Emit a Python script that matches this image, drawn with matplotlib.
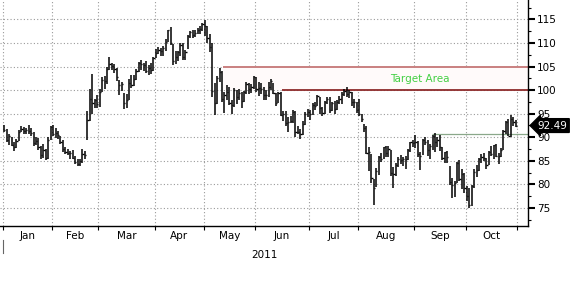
import matplotlib
matplotlib.use("Agg")
import matplotlib.pyplot as plt
import matplotlib.transforms as mtransforms
import numpy as np

# ---- data (WTI-style daily bars, 2011, trading days) ----
months = ["Jan", "Feb", "Mar", "Apr", "May", "Jun", "Jul", "Aug", "Sep", "Oct"]

close_jan = [91.55, 89.38, 90.30, 88.38, 88.03, 89.25, 91.11, 91.86, 91.40, 91.54, 91.38, 90.86, 88.86, 89.11, 87.87, 86.19, 87.33, 85.64, 89.34, 92.19]
high_jan = [92.58, 91.78, 90.79, 90.15, 89.09, 89.62, 91.50, 92.33, 92.14, 92.00, 92.58, 91.95, 91.09, 90.14, 89.76, 88.17, 88.51, 87.61, 90.09, 92.40]
low_jan = [91.05, 89.05, 88.38, 88.16, 87.19, 87.67, 89.24, 91.02, 90.70, 90.63, 90.70, 90.35, 88.09, 88.40, 87.27, 85.50, 85.68, 85.11, 85.33, 89.33]

close_feb = [90.77, 90.86, 90.54, 89.03, 87.48, 86.94, 86.71, 86.73, 85.58, 84.81, 84.32, 84.99, 86.36, 86.20, 93.57, 98.10, 97.28, 97.88, 96.97]
high_feb = [92.56, 92.00, 91.30, 90.20, 89.43, 87.90, 87.60, 87.20, 87.40, 86.10, 85.40, 85.50, 87.50, 87.00, 95.60, 100.30, 103.41, 98.20, 99.00]
low_feb = [90.20, 89.80, 89.60, 88.60, 86.98, 86.50, 86.30, 85.50, 85.30, 84.30, 83.90, 84.00, 84.60, 85.50, 89.50, 93.50, 95.00, 96.20, 96.20]

close_mar = [99.63, 102.23, 101.91, 104.42, 105.44, 105.02, 104.38, 102.70, 101.16, 101.19, 97.18, 97.98, 101.42, 101.07, 102.33, 104.00, 105.75, 105.60, 105.40, 103.98, 104.79, 104.27, 106.72]
high_mar = [100.20, 102.70, 102.90, 104.92, 106.95, 105.80, 105.60, 104.70, 102.10, 101.80, 99.40, 99.10, 102.40, 103.20, 103.10, 104.50, 106.00, 106.30, 105.80, 106.20, 105.30, 105.70, 107.00]
low_mar = [96.40, 99.50, 100.30, 101.30, 104.30, 104.20, 103.60, 102.00, 99.00, 99.80, 96.00, 96.20, 98.00, 100.50, 100.80, 102.10, 103.90, 104.20, 104.10, 103.70, 103.30, 103.40, 104.10]

close_apr = [107.94, 108.47, 108.34, 108.83, 110.30, 112.79, 109.92, 106.25, 107.11, 108.11, 109.66, 107.12, 108.15, 111.45, 112.29, 111.78, 112.21, 112.76, 112.86, 113.93]
high_apr = [108.80, 109.10, 108.90, 109.30, 110.75, 112.80, 113.46, 109.80, 108.30, 108.30, 109.90, 110.00, 108.50, 111.70, 112.50, 112.80, 112.80, 113.20, 113.60, 114.20]
low_apr = [106.80, 107.60, 107.20, 107.20, 108.20, 110.20, 109.50, 105.30, 105.60, 106.10, 107.30, 106.30, 106.40, 108.70, 111.10, 111.10, 111.20, 111.80, 111.80, 112.50]

close_may = [113.52, 111.05, 109.24, 99.80, 97.18, 102.55, 103.88, 98.21, 98.97, 99.65, 97.37, 96.91, 100.10, 98.44, 99.49, 97.70, 99.59, 101.32, 100.23, 100.59, 102.70]
high_may = [114.83, 113.50, 111.90, 109.90, 101.50, 102.90, 104.60, 104.10, 99.70, 101.00, 100.60, 97.80, 100.50, 100.10, 100.20, 99.70, 99.90, 101.80, 101.50, 101.30, 102.90]
low_may = [111.50, 110.00, 108.00, 98.50, 94.63, 97.00, 101.70, 97.50, 95.20, 97.80, 96.80, 95.00, 96.50, 97.00, 97.80, 96.30, 97.40, 99.10, 99.20, 99.40, 100.20]

close_jun = [100.29, 100.40, 100.22, 99.01, 98.94, 100.74, 101.93, 99.29, 97.30, 99.37, 94.81, 94.95, 93.01, 93.26, 93.40, 95.41, 91.02, 91.16, 90.61, 92.89, 94.96, 95.42]
high_jun = [102.80, 101.70, 101.50, 100.60, 100.00, 101.70, 102.40, 101.50, 99.40, 99.70, 99.50, 95.50, 95.60, 94.30, 94.60, 95.80, 95.50, 92.40, 91.80, 93.40, 95.30, 95.90]
low_jun = [99.60, 98.70, 99.10, 98.00, 98.00, 98.60, 100.00, 99.10, 96.70, 97.30, 94.50, 93.50, 92.40, 91.20, 93.10, 93.10, 90.00, 90.60, 89.61, 90.50, 92.70, 94.20]

close_jul = [94.94, 96.89, 96.65, 98.67, 96.20, 95.15, 97.43, 98.05, 95.69, 97.24, 95.93, 97.50, 98.14, 99.13, 99.87, 99.20, 99.59, 97.40, 97.44, 95.70]
high_jul = [95.80, 97.20, 97.40, 98.90, 98.50, 96.50, 97.60, 98.50, 98.60, 97.50, 97.60, 97.90, 98.70, 99.60, 100.20, 100.60, 100.00, 99.70, 98.10, 97.50]
low_jul = [93.70, 94.70, 95.70, 96.60, 95.00, 94.60, 95.00, 97.00, 95.20, 95.60, 95.00, 95.80, 97.00, 97.00, 98.80, 98.50, 98.40, 96.70, 96.30, 95.10]

close_aug = [94.89, 93.79, 91.93, 86.63, 86.88, 81.31, 79.30, 82.89, 85.72, 85.38, 87.88, 86.65, 87.58, 82.38, 82.26, 84.12, 85.44, 85.16, 85.30, 85.37, 87.27, 88.90, 88.81]
high_aug = [98.10, 95.00, 92.80, 92.30, 87.90, 86.40, 81.20, 83.50, 86.00, 86.60, 88.00, 88.20, 88.20, 87.40, 83.80, 84.50, 85.90, 86.30, 85.80, 86.10, 87.50, 89.10, 89.40]
low_aug = [94.50, 93.20, 91.10, 86.50, 82.90, 80.30, 75.71, 79.50, 82.10, 84.70, 85.40, 85.90, 85.90, 81.80, 79.20, 81.90, 83.70, 84.30, 84.00, 83.30, 85.20, 86.90, 88.00]

close_sep = [88.93, 86.45, 86.02, 89.34, 89.05, 87.24, 88.19, 90.21, 88.91, 89.40, 87.96, 85.70, 86.92, 85.92, 80.51, 79.85, 80.24, 84.45, 81.21, 82.14, 79.20]
high_sep = [90.50, 89.20, 86.80, 89.60, 90.00, 89.50, 88.60, 90.50, 91.00, 90.00, 90.50, 88.00, 86.95, 87.00, 84.00, 81.40, 80.80, 84.70, 85.20, 83.20, 82.50]
low_sep = [87.70, 85.90, 83.00, 86.20, 88.40, 86.00, 85.50, 87.30, 86.80, 87.90, 87.10, 85.20, 84.50, 84.50, 79.80, 77.10, 77.30, 80.40, 80.80, 79.00, 78.10]

close_oct = [77.61, 75.67, 79.68, 82.59, 82.98, 85.41, 85.81, 85.57, 84.23, 86.80, 86.38, 88.34, 85.97, 86.11, 87.40, 91.27, 93.17, 90.20, 93.96, 93.32, 92.49]
high_oct = [79.70, 79.20, 79.90, 83.20, 84.20, 85.70, 86.40, 86.70, 85.70, 87.00, 88.10, 88.40, 88.60, 86.60, 87.70, 91.60, 93.50, 93.80, 94.65, 94.20, 93.70]
low_oct = [76.60, 74.95, 75.40, 79.30, 81.60, 82.90, 84.60, 84.90, 83.20, 84.20, 86.00, 85.50, 85.80, 84.40, 85.80, 87.30, 90.80, 90.20, 90.10, 92.30, 92.20]

closes_by_month = [close_jan, close_feb, close_mar, close_apr, close_may, close_jun,
                   close_jul, close_aug, close_sep, close_oct]
highs_by_month = [high_jan, high_feb, high_mar, high_apr, high_may, high_jun,
                  high_jul, high_aug, high_sep, high_oct]
lows_by_month = [low_jan, low_feb, low_mar, low_apr, low_may, low_jun,
                 low_jul, low_aug, low_sep, low_oct]

y_ticks = [75, 80, 85, 90, 95, 100, 105, 110, 115]
target_low = 100
target_high = 105
support_level = 90.6
last_price = 92.49
year_label = "2011"
target_label = "Target Area"

# ---- assemble ----
close = np.concatenate(closes_by_month)
high = np.concatenate(highs_by_month)
low = np.concatenate(lows_by_month)
x = np.arange(len(close))
month_len = [len(m) for m in closes_by_month]
bounds = np.concatenate([[0], np.cumsum(month_len)]) - 0.5  # month boundaries
mid = (bounds[:-1] + bounds[1:]) / 2

fig = plt.figure(figsize=(5.8, 3.0), dpi=100)
ax = fig.add_axes([0.0, 0.2467, 0.9103, 0.7533])
ax.set_xlim(-1.7, 214.0)
ax.set_ylim(71.2, 119.1)

# grid
grid_kw = dict(color="#9a9a9a", lw=0.8, ls=(0, (1, 2)), zorder=0)
for yv in y_ticks:
    ax.axhline(yv, **grid_kw)
for b in bounds:
    ax.axvline(b, **grid_kw)

# target lines
start_105 = 89.5
start_100 = 113.5
ax.fill_between([start_105, 214], target_low, target_high, color="#fffafa", zorder=0.5, lw=0)
ax.hlines(target_high, start_105, 214, color="#c98080", lw=1.4, zorder=1)
ax.hlines(target_low, start_100, 214, color="#8e2a2a", lw=1.3, zorder=1)
ax.text(169.8, 102.3, target_label, color="#44d044", fontsize=7.5, ha="center", va="center", zorder=2)

# support line
ax.hlines(support_level, 174.7, 214, color="#8aa88a", lw=0.9, zorder=1)

# bars
ax.vlines(x, low, high, color="black", lw=1.1, zorder=3)
ax.hlines(close, x, x + 0.5, color="black", lw=1.0, zorder=3)

# spines
for s in ["left", "top"]:
    ax.spines[s].set_visible(False)
ax.spines["bottom"].set_linewidth(1.0)
ax.spines["right"].set_linewidth(1.0)

# y axis on right
ax.yaxis.tick_right()
ax.set_yticks(y_ticks)
ax.set_yticklabels([str(v) for v in y_ticks])
ax.set_yticks(np.arange(72.5, 119, 2.5), minor=True)
ax.tick_params(axis="y", which="major", direction="out", length=5, width=1.5,
               labelsize=7.5, pad=1.5, colors="black")
ax.tick_params(axis="y", which="minor", direction="out", length=2, width=0.8)

# x axis
ax.set_xticks(list(bounds))
ax.set_xticklabels([])
ax.tick_params(axis="x", which="major", direction="out", length=3, width=0.8)
for m, xm in zip(months, mid):
    ax.text(xm, -0.02, m, transform=mtransforms.blended_transform_factory(ax.transData, ax.transAxes),
            ha="center", va="top", fontsize=7.5)
ax.text(0.5, -0.105, year_label, transform=ax.transAxes, ha="center", va="top", fontsize=7.5)
fig.add_artist(plt.Line2D([3 / 580, 3 / 580], [1 - 253 / 300, 1 - 240 / 300], color="#666666", lw=0.8))

# last price label
trans = mtransforms.blended_transform_factory(ax.transAxes, ax.transData)
ax.text(1.018, last_price, f"{last_price:.2f}", transform=trans, ha="left", va="center",
        fontsize=7.5, color="white", clip_on=False, zorder=5,
        bbox=dict(boxstyle="larrow,pad=0.18", fc="black", ec="black"))

fig.savefig("out.png", dpi=100)
